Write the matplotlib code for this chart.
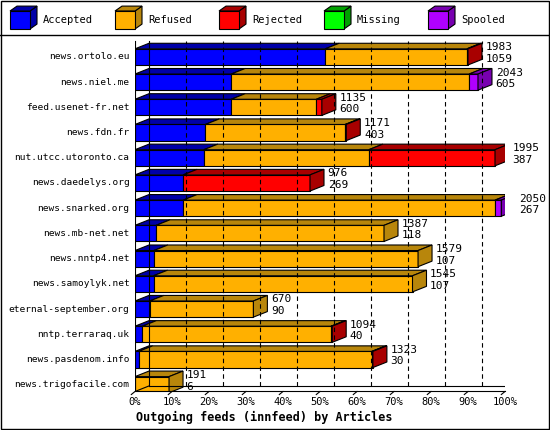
import matplotlib
matplotlib.use("Agg")
import matplotlib.pyplot as plt
from matplotlib.patches import Polygon, Rectangle

hosts = ["news.ortolo.eu", "news.niel.me", "feed.usenet-fr.net", "news.fdn.fr",
         "nut.utcc.utoronto.ca", "news.daedelys.org", "news.snarked.org",
         "news.mb-net.net", "news.nntp4.net", "news.samoylyk.net",
         "eternal-september.org", "nntp.terraraq.uk", "news.pasdenom.info",
         "news.trigofacile.com"]
accepted = [51.4, 26.0, 26.0, 19.0, 18.6, 13.0, 13.0, 5.7, 5.1, 5.0, 4.0, 2.0, 1.0, 0.0]
refused = [38.3, 64.3, 23.0, 37.8, 44.6, 0.0, 84.3, 61.6, 71.4, 70.0, 28.0, 51.0, 63.0, 9.2]
rejected = [0.3, 0.0, 1.5, 0.3, 34.1, 34.3, 0.0, 0.0, 0.0, 0.0, 0.0, 0.3, 0.3, 0.0]
missing = [0.0] * 14
spooled = [0.0, 2.4, 0.0, 0.0, 0.0, 0.0, 1.7, 0.0, 0.0, 0.0, 0.0, 0.0, 0.0, 0.0]
totals = [1983, 2043, 1135, 1171, 1995, 976, 2050, 1387, 1579, 1545, 670, 1094, 1323, 191]
seconds = [1059, 605, 600, 403, 387, 269, 267, 118, 107, 107, 90, 40, 30, 6]
series = ["Accepted", "Refused", "Rejected", "Missing", "Spooled"]
front_c = ["#0000ff", "#ffb000", "#ff0000", "#00ff00", "#b000ff"]
dark_c = ["#0000a8", "#b8860b", "#a80000", "#00a000", "#7800b0"]
ticks = list(range(0, 101, 10))

W, H = 550, 430
fig = plt.figure(figsize=(5.5, 4.3), dpi=100)
fig.patch.set_facecolor("white")
mono = "DejaVu Sans Mono"

fa = fig.add_axes([0, 0, 1, 1]); fa.set_xlim(0, W); fa.set_ylim(H, 0); fa.axis("off")
fa.add_patch(Rectangle((0.5, 0.5), W - 1.5, H - 1.5, fill=False, lw=1, ec="black"))
fa.plot([0, W], [35, 35], color="black", lw=1)
lx = [10, 115, 219, 324, 428]
for i, name in enumerate(series):
    x0, y0, w, h, d = lx[i], 11, 20, 18, 7
    fa.add_patch(Polygon([(x0 + w, y0), (x0 + w + d, y0 - d * 0.7), (x0 + w + d, y0 + h - d * 0.7), (x0 + w, y0 + h)],
                         fc=dark_c[i], ec="black", lw=0.8))
    fa.add_patch(Polygon([(x0, y0), (x0 + d, y0 - d * 0.7), (x0 + w + d, y0 - d * 0.7), (x0 + w, y0)],
                         fc=dark_c[i], ec="black", lw=0.8))
    fa.add_patch(Rectangle((x0, y0), w, h, fc=front_c[i], ec="black", lw=0.8))
    fa.text(x0 + 33, 20, name, fontsize=7.5, family=mono, va="center")

ax = fig.add_axes([135 / W, (H - 392) / H, 370 / W, (392 - 40) / H])
ax.set_xlim(0, 100); ax.set_ylim(13.29, -0.67); ax.axis("off")
dx, dy, hh = 3.78, -0.22, 0.32
floor = 13.29 - 0.02
top = -0.62

for t in ticks[1:-1]:
    ax.plot([t + dx, t + dx], [floor + dy, top], color="black", lw=0.8, ls=(0, (4, 3)))
ax.plot([100 + dx, 100 + dx], [floor + dy, top], color="black", lw=0.8)
ax.plot([dx, dx], [floor + dy, top], color="black", lw=0.8)
ax.plot([0, 0], [floor, top], color="black", lw=0.8)
ax.plot([0, 100], [floor, floor], color="black", lw=0.8, clip_on=False)
ax.plot([dx, 100 + dx], [floor + dy, floor + dy], color="black", lw=0.8)
ax.plot([0, dx], [floor, floor + dy], color="black", lw=0.8)
ax.plot([100, 100 + dx], [floor, floor + dy], color="black", lw=0.8)
for t in ticks:
    ax.plot([t - 1.0, t], [floor + 0.12, floor], color="black", lw=0.8, clip_on=False)
    ax.text(t, floor + 0.22, f"{t}%", ha="center", va="top", fontsize=7.5, family=mono)
ax.text(35, floor + 0.75, "Outgoing feeds (innfeed) by Articles", ha="center", va="top",
        fontsize=8.5, family=mono, fontweight="bold")

data = [accepted, refused, rejected, missing, spooled]
for r, host in enumerate(hosts):
    y = r
    left = 0.0
    last = None
    for s in range(5):
        v = data[s][r]
        if v <= 0:
            continue
        ax.add_patch(Rectangle((left, y - hh), v, 2 * hh, fc=front_c[s], ec="black", lw=0.8))
        ax.add_patch(Polygon([(left, y - hh), (left + dx, y - hh + dy), (left + v + dx, y - hh + dy), (left + v, y - hh)],
                             fc=dark_c[s], ec="black", lw=0.8))
        left += v
        last = s
    ax.add_patch(Polygon([(left, y - hh), (left + dx, y - hh + dy), (left + dx, y + hh + dy), (left, y + hh)],
                         fc=dark_c[last], ec="black", lw=0.8))
    ax.text(-1.5, y, host, ha="right", va="center", fontsize=6.8, family=mono)
    ax.text(left + dx + 1.0, y - 0.38, str(totals[r]), ha="left", va="center", fontsize=8, family=mono)
    ax.text(left + dx + 1.0, y + 0.08, str(seconds[r]), ha="left", va="center", fontsize=8, family=mono)

fig.savefig("out.png", dpi=100)
